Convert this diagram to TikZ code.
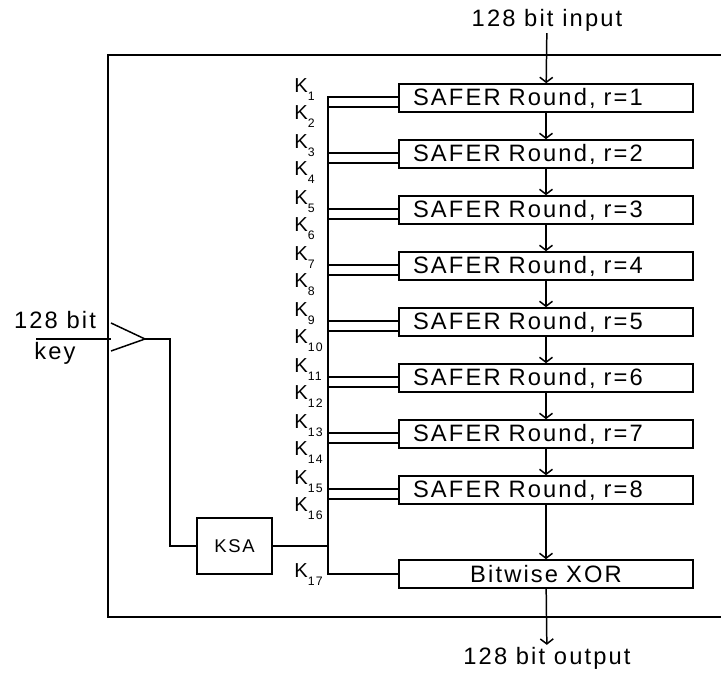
\documentclass[tikz,border=0pt]{standalone}
\usepackage{fontspec}
\setmainfont{Liberation Sans}[LetterSpace=9]
\usetikzlibrary{arrows.meta,positioning,calc}
\newcommand{\ksub}[1]{\raisebox{-0.7ex}{\fontsize{7}{8}\selectfont #1}}
\tikzset{
  safer/.style={draw=black, line width=0.9pt, minimum width=5.88cm, minimum height=0.56cm, inner xsep=0.28cm, inner ysep=0pt, text width=5.32cm, align=left, font=\fontsize{13.5}{14}\selectfont},
  xorbox/.style={safer, align=center},
  ksabox/.style={draw=black, line width=0.9pt, minimum width=1.5cm, minimum height=1.12cm, inner sep=0pt, font=\fontsize{10.5}{11}\selectfont},
  klabel/.style={anchor=base west, inner sep=0pt, font=\fontsize{11.5}{12}\selectfont},
  iolabel/.style={inner sep=1pt, align=center, font=\fontsize{13.5}{17.5}\selectfont},
  wire/.style={line width=0.85pt},
  arrow/.style={-{Straight Barb[length=1mm, width=2.6mm]}, line width=0.85pt}
}
\begin{document}
\begin{tikzpicture}[x=0.02cm, y=-0.02cm]
  \useasboundingbox (0,0) rectangle (721,675);
  % frame
  \draw[wire] (721,55) -| (108,617) -- (721,617);
  % rounds
  \node[safer] (r1) at (546,98) {SAFER Round, r=1};
  \node[safer] (r2) at (546,154) {SAFER Round, r=2};
  \node[safer] (r3) at (546,210) {SAFER Round, r=3};
  \node[safer] (r4) at (546,266) {SAFER Round, r=4};
  \node[safer] (r5) at (546,322) {SAFER Round, r=5};
  \node[safer] (r6) at (546,378) {SAFER Round, r=6};
  \node[safer] (r7) at (546,434) {SAFER Round, r=7};
  \node[safer] (r8) at (546,490) {SAFER Round, r=8};
  \node[xorbox] (xor) at (546,574) {Bitwise XOR};
  \node[ksabox] (ksa) at (234.5,546) {KSA};
  \node[iolabel] (in) at (547,20) {128 bit input};
  \node[iolabel] (out) at (547,658) {128 bit output};
  \node[iolabel] (keytxt) at (55,338) {128 bit\\key};
  % data path
  \draw[arrow] (in) -- (r1); \draw[arrow] (r1) -- (r2); \draw[arrow] (r2) -- (r3); \draw[arrow] (r3) -- (r4);
  \draw[arrow] (r4) -- (r5); \draw[arrow] (r5) -- (r6); \draw[arrow] (r6) -- (r7); \draw[arrow] (r7) -- (r8);
  \draw[arrow] (r8) -- (xor); \draw[arrow] (xor) -- (out);
  % key input and schedule
  \coordinate (keyin) at (36,339);
  \coordinate (keytip) at (145,339);
  \coordinate (bus) at (328,97);
  \draw[wire] (keyin) -- (111,339);
  \draw[wire] (111,323) -- (keytip) -- (111,351);
  \draw[wire] (keytip) -- ++(25,0) |- (ksa.west);
  \draw[wire] (ksa.east) -- (bus |- ksa.east);
  \draw[wire] (bus) -- (bus |- xor.west) -- (xor.west);
  \draw[wire] ($(r1.west)+(0,-1)$) -- ++(-71,0) ($(r1.west)+(0,9)$) -- ++(-71,0);
  \draw[wire] ($(r2.west)+(0,-1)$) -- ++(-71,0) ($(r2.west)+(0,9)$) -- ++(-71,0);
  \draw[wire] ($(r3.west)+(0,-1)$) -- ++(-71,0) ($(r3.west)+(0,9)$) -- ++(-71,0);
  \draw[wire] ($(r4.west)+(0,-1)$) -- ++(-71,0) ($(r4.west)+(0,9)$) -- ++(-71,0);
  \draw[wire] ($(r5.west)+(0,-1)$) -- ++(-71,0) ($(r5.west)+(0,9)$) -- ++(-71,0);
  \draw[wire] ($(r6.west)+(0,-1)$) -- ++(-71,0) ($(r6.west)+(0,9)$) -- ++(-71,0);
  \draw[wire] ($(r7.west)+(0,-1)$) -- ++(-71,0) ($(r7.west)+(0,9)$) -- ++(-71,0);
  \draw[wire] ($(r8.west)+(0,-1)$) -- ++(-71,0) ($(r8.west)+(0,9)$) -- ++(-71,0);
  % subkey labels
  \node[klabel] (k1) at (294,93) {K\ksub{1}};
  \node[klabel] (k2) at (294,120) {K\ksub{2}};
  \node[klabel] (k3) at (294,149) {K\ksub{3}};
  \node[klabel] (k4) at (294,176) {K\ksub{4}};
  \node[klabel] (k5) at (294,205) {K\ksub{5}};
  \node[klabel] (k6) at (294,232) {K\ksub{6}};
  \node[klabel] (k7) at (294,261) {K\ksub{7}};
  \node[klabel] (k8) at (294,288) {K\ksub{8}};
  \node[klabel] (k9) at (294,317) {K\ksub{9}};
  \node[klabel] (k10) at (294,344) {K\ksub{10}};
  \node[klabel] (k11) at (294,373) {K\ksub{11}};
  \node[klabel] (k12) at (294,400) {K\ksub{12}};
  \node[klabel] (k13) at (294,429) {K\ksub{13}};
  \node[klabel] (k14) at (294,456) {K\ksub{14}};
  \node[klabel] (k15) at (294,485) {K\ksub{15}};
  \node[klabel] (k16) at (294,512) {K\ksub{16}};
  \node[klabel] (k17) at (294,578) {K\ksub{17}};
\end{tikzpicture}
\end{document}
